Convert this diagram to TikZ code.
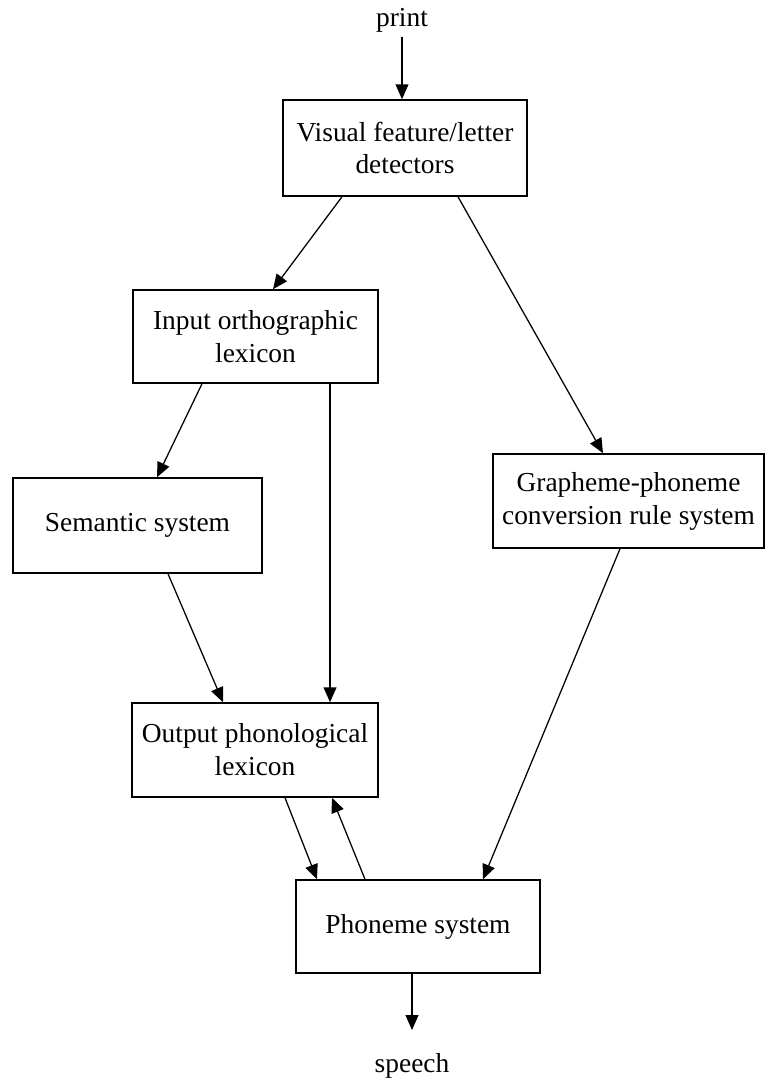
\documentclass[tikz,border=0pt]{standalone}
\usepackage{fontspec}
\setmainfont{Liberation Serif}
\usetikzlibrary{arrows.meta, positioning}

\begin{document}
\begin{tikzpicture}[x=0.025cm, y=-0.025cm,
  box/.style={draw, line width=1.1pt, align=center, inner sep=0pt,
    font=\fontsize{19.5}{23.4}\selectfont},
  lbl/.style={font=\fontsize{19.5}{23.4}\selectfont},
  arr/.style={line width=0.9pt, -{Triangle[length=0.37cm, width=0.32cm]}}]
\useasboundingbox (0,0) rectangle (765,1084);

% boxes
\node[box, minimum width=6.1cm, minimum height=2.4cm] (vis) at (405,148)
  {Visual feature/letter\\detectors};
\node[box, minimum width=6.125cm, minimum height=2.325cm] (inp) at (255.5,336.5)
  {Input orthographic\\lexicon};
\node[box, minimum width=6.225cm, minimum height=2.375cm] (sem) at (137.5,525.5)
  {Semantic system};
\node[box, minimum width=6.775cm, minimum height=2.35cm] (gpc) at (628.5,501)
  {Grapheme-phoneme\\conversion rule system};
\node[box, minimum width=6.15cm, minimum height=2.35cm] (out) at (255,750)
  {Output phonological\\lexicon};
\node[box, minimum width=6.1cm, minimum height=2.325cm] (pho) at (418,926.5)
  {Phoneme system};

% input and output
\node[lbl] (print) at (402,20) {print};
\node[lbl] (speech) at (412,1066) {speech};
\coordinate (spk) at (412,1030);

% connectors
\draw[arr] (print.south) -- (print.south |- vis.north);
\draw[arr] ([xshift=-1.575cm]vis.south) -- ([xshift=0.4375cm]inp.north);
\draw[arr] ([xshift=1.325cm]vis.south) -- ([xshift=-0.6375cm]gpc.north);
\draw[arr] ([xshift=-1.3375cm]inp.south) -- ([xshift=0.4875cm]sem.north);
\draw[arr] ([xshift=1.8625cm]inp.south) -- ([xshift=1.8625cm]inp.south |- out.north);
\draw[arr] ([xshift=0.7625cm]sem.south) -- ([xshift=-0.8cm]out.north);
\draw[arr] ([xshift=0.75cm]out.south) -- ([xshift=-2.525cm]pho.north);
\draw[arr] ([xshift=-1.325cm]pho.north) -- ([xshift=1.925cm]out.south);
\draw[arr] ([xshift=-0.2125cm]gpc.south) -- ([xshift=1.625cm]pho.north);
\draw[arr] (pho.south -| spk) -- (spk);
\end{tikzpicture}
\end{document}
